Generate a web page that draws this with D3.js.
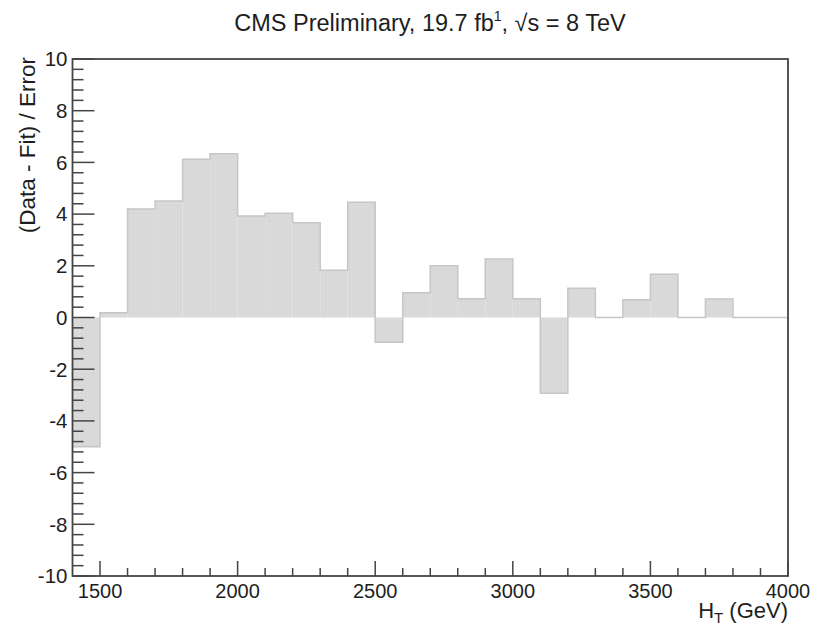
<!DOCTYPE html>
<html>
<head>
<meta charset="utf-8">
<script src="https://cdn.jsdelivr.net/npm/d3@7"></script>
<style>
  body { margin: 0; background: #fff; }
  svg { display: block; }
  text { font-family: "Liberation Sans", Arial, Helvetica, sans-serif; fill: #1e1e1e; }
</style>
</head>
<body>
<svg id="chart" width="814" height="626"></svg>
<script>
// ---- data ----
const binEdgesStart = [1400,1500,1600,1700,1800,1900,2000,2100,2200,2300,2400,2500,2600,2700,2800,2900,3000,3100,3200,3300,3400,3500,3600,3700,3800,3900];
const binWidth = 100;
const pulls = [-5.0,0.18,4.2,4.51,6.12,6.33,3.93,4.03,3.67,1.83,4.46,-0.96,0.96,2.0,0.73,2.26,0.73,-2.93,1.13,0,0.69,1.67,0,0.72,0,0];
const xTickLabels = [1500,2000,2500,3000,3500,4000];
const yTickLabels = [-10,-8,-6,-4,-2,0,2,4,6,8,10];

(function(){
const svg = d3.select("#chart");
const pLeft = 72.5, pRight = 788, pTop = 59, pBottom = 576;
const x = d3.scaleLinear().domain([1400, 4000]).range([pLeft, pRight]);
const y = d3.scaleLinear().domain([-10, 10]).range([pBottom, pTop]);

// pattern fill (dotted grey like ROOT)
const defs = svg.append("defs");
const pat = defs.append("pattern").attr("id","dots").attr("patternUnits","userSpaceOnUse")
  .attr("width",4).attr("height",4);
pat.append("rect").attr("width",4).attr("height",4).attr("fill","#dadada");
pat.append("rect").attr("x",1).attr("y",1).attr("width",1).attr("height",1).attr("fill","#cdcdcd");

// bars
svg.append("g").selectAll("rect").data(pulls).join("rect")
  .attr("x", (d,i) => x(binEdgesStart[i]))
  .attr("width", (d,i) => x(binEdgesStart[i] + binWidth) - x(binEdgesStart[i]))
  .attr("y", d => y(Math.max(0, d)))
  .attr("height", d => Math.abs(y(d) - y(0)))
  .attr("fill", "url(#dots)");

// step outline
const pts = binEdgesStart.map((e,i) => [e, pulls[i]]);
pts.push([binEdgesStart[binEdgesStart.length-1] + binWidth, pulls[pulls.length-1]]);
svg.append("path")
  .attr("d", d3.line().x(d => x(d[0])).y(d => y(d[1])).curve(d3.curveStepAfter)(pts))
  .attr("fill","none").attr("stroke","#c6c6c6").attr("stroke-width",1.5);

// frame
svg.append("rect").attr("x",pLeft).attr("y",pTop).attr("width",pRight-pLeft).attr("height",pBottom-pTop)
  .attr("fill","none").attr("stroke","#444").attr("stroke-width",1.8);

// y axis ticks
const yMinor = d3.range(-10, 10.001, 0.4);
svg.append("g").selectAll("line").data(yMinor).join("line")
  .attr("x1", pLeft).attr("x2", d => pLeft + (Math.abs(d/2 - Math.round(d/2)) < 1e-6 ? 22 : 11))
  .attr("y1", d => y(d)).attr("y2", d => y(d))
  .attr("stroke","#444").attr("stroke-width",1.5);
svg.append("g").selectAll("text").data(yTickLabels).join("text")
  .attr("x", pLeft - 5).attr("y", d => y(d)).attr("dy","0.36em")
  .attr("text-anchor","end").attr("font-size", 20.5).text(d => d);

// x axis ticks
const xMinor = d3.range(1500, 4000.001, 100);
svg.append("g").selectAll("line").data(xMinor).join("line")
  .attr("x1", d => x(d)).attr("x2", d => x(d))
  .attr("y1", pBottom).attr("y2", d => pBottom - (d % 500 === 0 ? 15 : 8))
  .attr("stroke","#444").attr("stroke-width",1.5);
svg.append("g").selectAll("text").data(xTickLabels).join("text")
  .attr("x", d => x(d)).attr("y", 598)
  .attr("text-anchor","middle").attr("font-size", 20).text(d => d);

// axis titles
const xt = svg.append("text").attr("x", pRight).attr("y", 618).attr("text-anchor","end").attr("font-size",22);
xt.append("tspan").text("H");
xt.append("tspan").attr("font-size",15).attr("dy",5).text("T");
xt.append("tspan").attr("dy",-5).text(" (GeV)");

svg.append("text").attr("transform", `translate(35,${pTop - 2}) rotate(-90)`)
  .attr("text-anchor","end").attr("font-size",22.5).text("(Data - Fit) / Error");

// title
const t = svg.append("text").attr("x", 430).attr("y", 31).attr("text-anchor","middle").attr("font-size",23.5);
t.append("tspan").text("CMS Preliminary, 19.7 fb");
t.append("tspan").attr("font-size",14).attr("dy",-10).text("1");
t.append("tspan").attr("dy",10).text(", \u221As = 8 TeV");
})();
</script>
</body>
</html>
